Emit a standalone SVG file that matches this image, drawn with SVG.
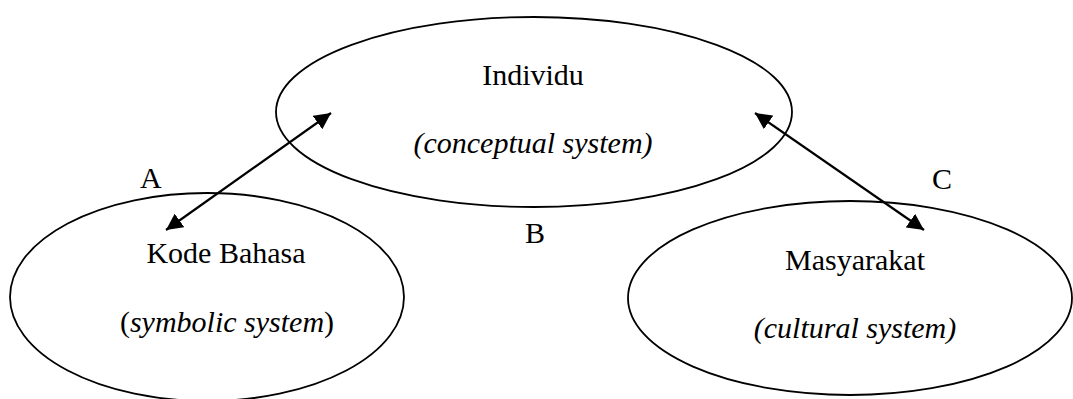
<svg xmlns="http://www.w3.org/2000/svg" width="1073" height="399" viewBox="0 0 1073 399">
<style>
.node ellipse{fill:none;stroke:#000;stroke-width:1.8}
text{font-family:'Liberation Serif','Times New Roman','DejaVu Serif',serif;font-size:30px;fill:#000}
.c{text-anchor:middle}
.i{font-style:italic}
.conn line{stroke:#000;stroke-width:2.2}
</style>
<defs>
<marker id="ah" viewBox="0 0 10 10" refX="10" refY="5" markerWidth="7.5" markerHeight="7.5" markerUnits="strokeWidth" orient="auto-start-reverse">
<path d="M0,0 L10,5 L0,10 Z" fill="#000"/>
</marker>
</defs>
<rect width="1073" height="399" fill="#fff"/>
<g id="individu" class="node">
<ellipse cx="534" cy="112" rx="258" ry="95"/>
<text class="c" x="533" y="85" font-family="Liberation Serif, serif">Individu</text>
<text class="c i" x="533" y="153" font-family="Liberation Serif, serif">(conceptual system)</text>
</g>
<g id="kode-bahasa" class="node">
<ellipse cx="207" cy="297" rx="197" ry="104"/>
<text class="c" x="226" y="263" font-family="Liberation Serif, serif">Kode Bahasa</text>
<text class="c" x="227" y="332" font-family="Liberation Serif, serif">(<tspan class="i">symbolic system</tspan>)</text>
</g>
<g id="masyarakat" class="node">
<ellipse cx="850" cy="298" rx="222" ry="97"/>
<text class="c" x="855" y="270" font-family="Liberation Serif, serif">Masyarakat</text>
<text class="c i" x="855" y="338" font-family="Liberation Serif, serif">(cultural system)</text>
</g>
<g id="connectors" class="conn">
<line x1="166" y1="230" x2="331" y2="113" marker-start="url(#ah)" marker-end="url(#ah)"/>
<line x1="755" y1="113" x2="924" y2="230" marker-start="url(#ah)" marker-end="url(#ah)"/>
</g>
<g id="labels">
<text x="140" y="188" font-family="Liberation Serif, serif">A</text>
<text x="525" y="243" font-family="Liberation Serif, serif">B</text>
<text x="932" y="189" font-family="Liberation Serif, serif">C</text>
</g>
</svg>
